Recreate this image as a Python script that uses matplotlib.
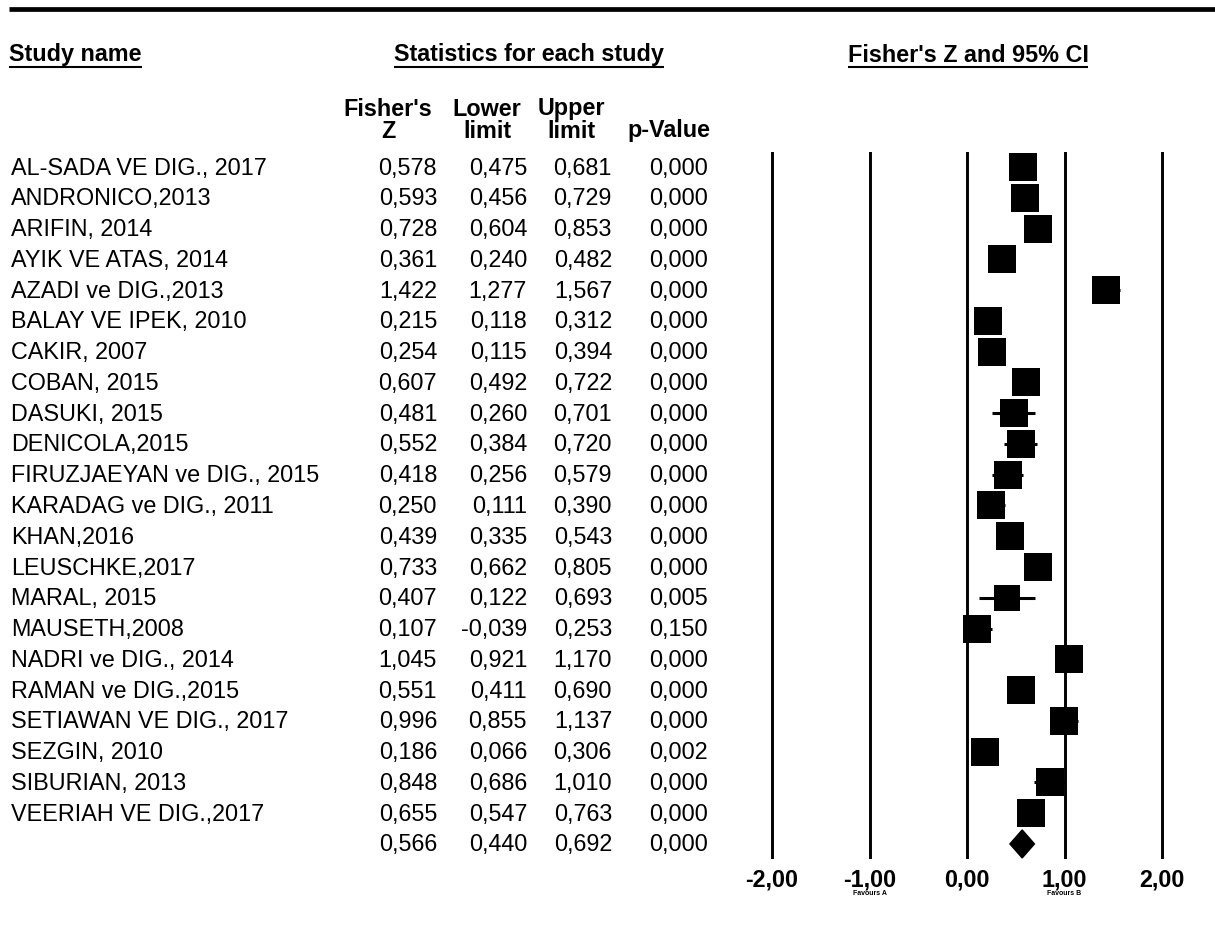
import numpy as np
import matplotlib
matplotlib.use("Agg")
import matplotlib.pyplot as plt
from matplotlib.transforms import blended_transform_factory
from matplotlib.patches import Polygon

plt.rcParams['font.family'] = ['Liberation Sans', 'DejaVu Sans']

names = ["AL-SADA VE DIG., 2017", "ANDRONICO,2013", "ARIFIN, 2014",
         "AYIK VE ATAS, 2014", "AZADI ve DIG.,2013", "BALAY VE IPEK, 2010",
         "CAKIR, 2007", "COBAN, 2015", "DASUKI, 2015", "DENICOLA,2015",
         "FIRUZJAEYAN ve DIG., 2015", "KARADAG ve DIG., 2011", "KHAN,2016",
         "LEUSCHKE,2017", "MARAL, 2015", "MAUSETH,2008", "NADRI ve DIG., 2014",
         "RAMAN ve DIG.,2015", "SETIAWAN VE DIG., 2017", "SEZGIN, 2010",
         "SIBURIAN, 2013", "VEERIAH VE DIG.,2017"]
fz = [0.578, 0.593, 0.728, 0.361, 1.422, 0.215, 0.254, 0.607, 0.481, 0.552,
      0.418, 0.250, 0.439, 0.733, 0.407, 0.107, 1.045, 0.551, 0.996, 0.186,
      0.848, 0.655]
lower = [0.475, 0.456, 0.604, 0.240, 1.277, 0.118, 0.115, 0.492, 0.260, 0.384,
         0.256, 0.111, 0.335, 0.662, 0.122, -0.039, 0.921, 0.411, 0.855, 0.066,
         0.686, 0.547]
upper = [0.681, 0.729, 0.853, 0.482, 1.567, 0.312, 0.394, 0.722, 0.701, 0.720,
         0.579, 0.390, 0.543, 0.805, 0.693, 0.253, 1.170, 0.690, 1.137, 0.306,
         1.010, 0.763]
pval = [0.000, 0.000, 0.000, 0.000, 0.000, 0.000, 0.000, 0.000, 0.000, 0.000,
        0.000, 0.000, 0.000, 0.000, 0.005, 0.150, 0.000, 0.000, 0.000, 0.002,
        0.000, 0.000]
summary = [0.566, 0.440, 0.692, 0.000]
ticks = [-2, -1, 0, 1, 2]
tick_labels = ["-2,00", "-1,00", "0,00", "1,00", "2,00"]


def fmt(v):
    return f"{v:.3f}".replace(".", ",")


W, H = 1215, 928
fig = plt.figure(figsize=(W / 100, H / 100), dpi=100)

# background axes in pixel coordinates
bg = fig.add_axes([0, 0, 1, 1])
bg.set_xlim(0, W)
bg.set_ylim(H, 0)
bg.axis("off")

# forest plot axes
n = len(names)
step = 30.77
top_px, bot_px, first_px = 153, 860, 168
ax = fig.add_axes([(772 - 19.5) / W, (H - bot_px) / H, (390 + 39) / W, (bot_px - top_px) / H])
ax.set_xlim(-2.2, 2.2)
ax.set_ylim((bot_px - first_px) / step, (top_px - first_px) / step)
for s in ax.spines.values():
    s.set_visible(False)
ax.set_yticks([])
ax.set_xticks(ticks)
ax.set_xticklabels(tick_labels, fontsize=16.8, fontweight="bold")
ax.tick_params(axis="x", length=0, pad=6)
for t in ticks:
    ax.axvline(t, color="black", lw=2.1, zorder=1)

# weights (random effects) for square size
se = (np.array(upper) - np.array(lower)) / 3.92
v = se ** 2
w = 1 / v
q = np.sum(w * (np.array(fz) - np.sum(w * fz) / np.sum(w)) ** 2)
c = np.sum(w) - np.sum(w ** 2) / np.sum(w)
tau2 = max(0, (q - (n - 1)) / c)
wr = 1 / (v + tau2)
side = 28.8 * np.sqrt(wr / wr.max()) * 0.72

rows = np.arange(n)
ax.hlines(rows, lower, upper, color="black", lw=2.2, zorder=2)
for i in range(n):
    ax.plot(fz[i], rows[i], marker="s", color="black", markersize=side[i],
            markeredgewidth=0, zorder=3)

ys = n
half = 14 / step
diamond = Polygon([(summary[1], ys), (summary[0], ys - half),
                   (summary[2], ys), (summary[0], ys + half)],
                  closed=True, color="black", zorder=3)
ax.add_patch(diamond)

fav = blended_transform_factory(ax.transData, ax.transAxes)
ax.text(-1, -0.048, "Favours A", transform=fav,
        ha="center", va="center", fontsize=5, fontweight="bold")
ax.text(1, -0.048, "Favours B", transform=fav,
        ha="center", va="center", fontsize=5, fontweight="bold")

# table text
tr = blended_transform_factory(bg.transData, ax.transData)
fs = 16.8
cols_x = [437, 527, 612, 708]
for i in range(n):
    bg.text(11, i, names[i], transform=tr, ha="left", va="center", fontsize=fs)
    for x, val in zip(cols_x, [fz[i], lower[i], upper[i], pval[i]]):
        bg.text(x, i, fmt(val), transform=tr, ha="right", va="center", fontsize=fs)
for x, val in zip(cols_x, summary):
    bg.text(x, n, fmt(val), transform=tr, ha="right", va="center", fontsize=fs)

# headers
bg.plot([9, W], [10, 10], color="black", lw=3.4, solid_capstyle="butt")
heads = [(9, "left", "Study name"), (529, "center", "Statistics for each study"),
         (968, "center", "Fisher's Z and 95% CI")]
fig.canvas.draw()
renderer = fig.canvas.get_renderer()
for x, ha, label in heads:
    t = bg.text(x, 55, label, ha=ha, va="center", fontsize=fs, fontweight="bold")
    bb = t.get_window_extent(renderer)
    bg.plot([bb.x0, bb.x1], [68, 68], color="black", lw=1.5, solid_capstyle="butt")

sub = [(388, "Fisher's", "Z"), (487, "Lower", "limit"), (571, "Upper", "limit"),
       (669, "", "p-Value")]
for x, l1, l2 in sub:
    bg.text(x, 109, l1, ha="center", va="center", fontsize=fs, fontweight="bold")
    bg.text(x, 131, l2, ha="center", va="center", fontsize=fs, fontweight="bold")

fig.savefig("out.png", dpi=100)
